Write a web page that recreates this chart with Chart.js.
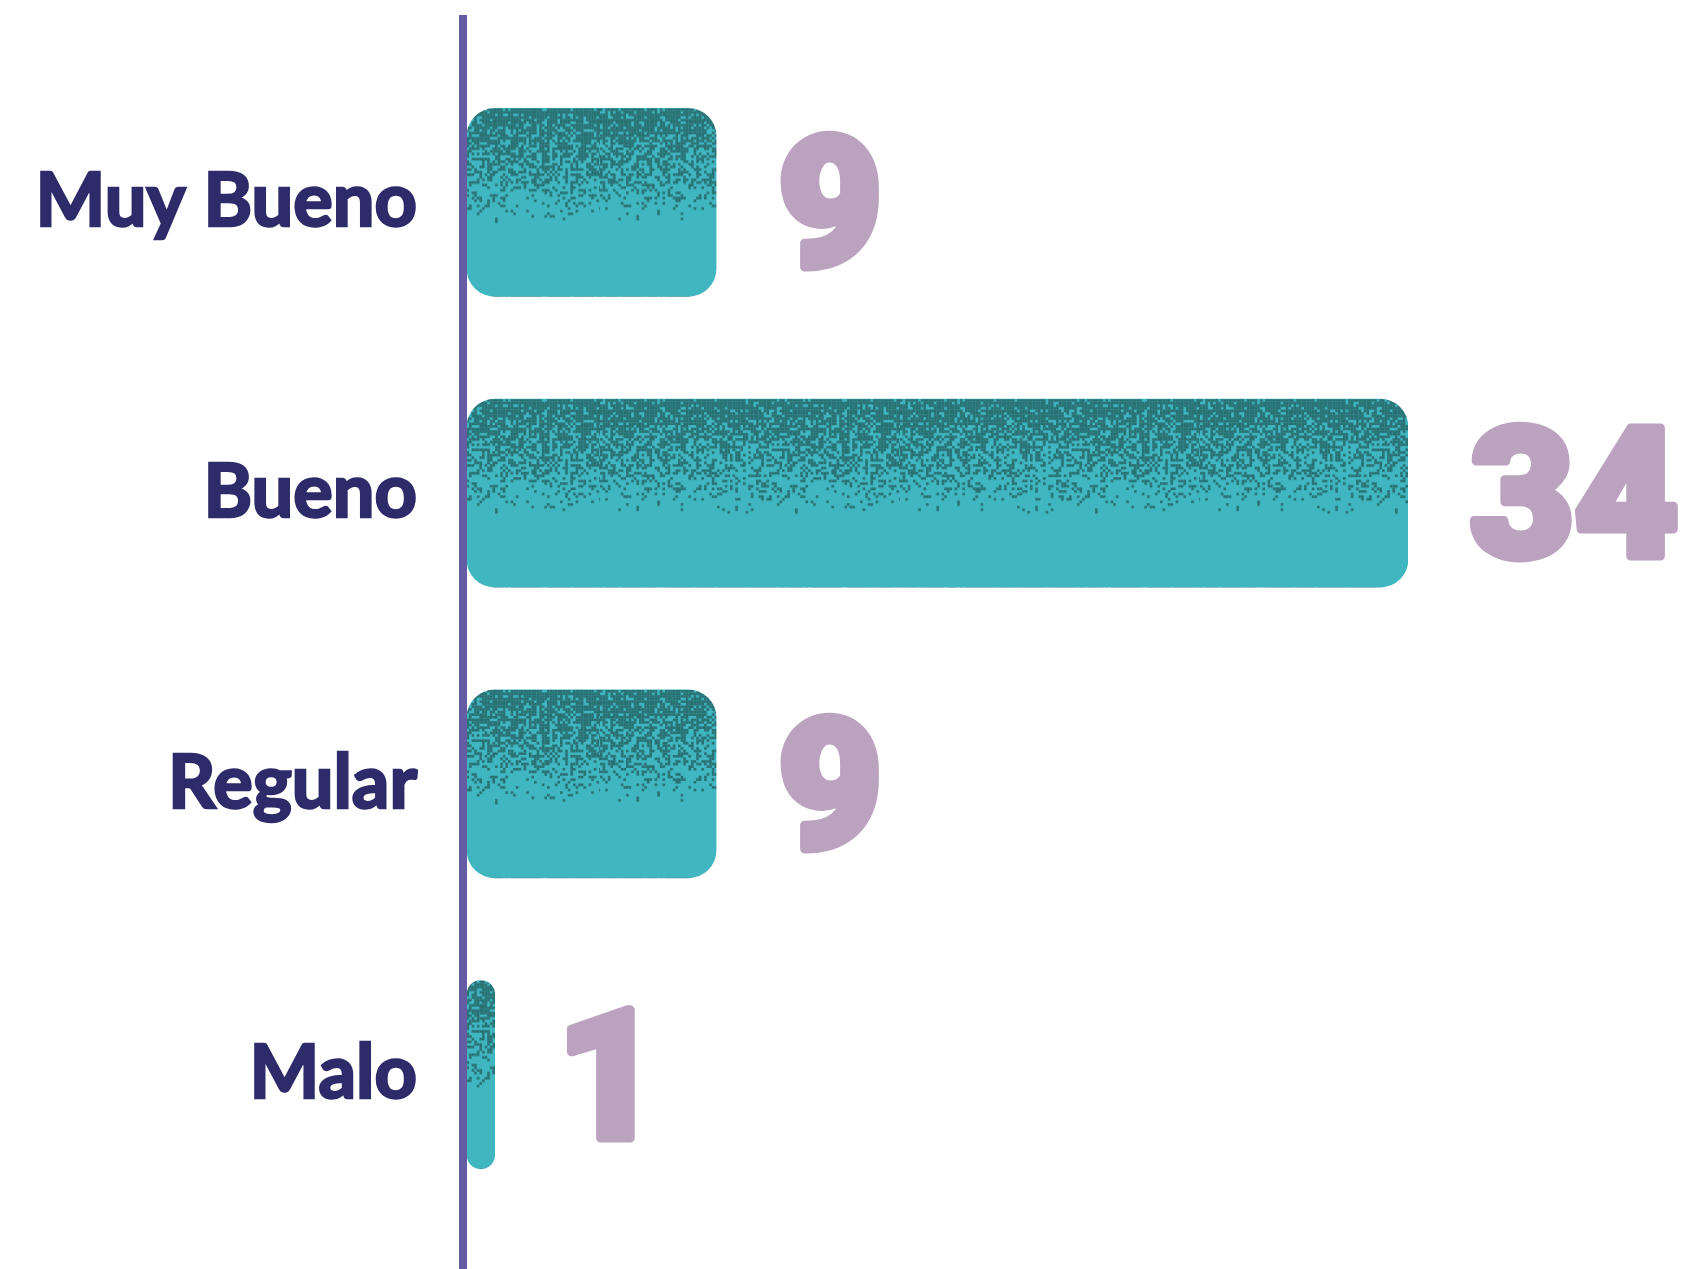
<!DOCTYPE html>
<html lang="es">
<head>
    <meta charset="UTF-8">
    <title>Valoración</title>
    <style>
        html, body {
            margin: 0;
            padding: 0;
            background: #ffffff;
        }
        #wrap {
            width: 1702px;
            height: 1269px;
        }
    </style>
    <script src="https://cdn.jsdelivr.net/npm/chart.js"></script>
</head>
<body>
    <div id="wrap"><canvas id="chart"></canvas></div>

    <script>
        // datos
        const categorias = ["Muy Bueno", "Bueno", "Regular", "Malo"];
        const respuestas = [9, 34, 9, 1];

        const BAR_H = 188;
        const LIGHT = "#40b6c0";
        const DARK = "#2a7072";

        // textura punteada (oscuro arriba, claro abajo)
        function makeTile() {
            const c = document.createElement("canvas");
            c.width = 300;
            c.height = BAR_H;
            const g = c.getContext("2d");
            g.fillStyle = LIGHT;
            g.fillRect(0, 0, c.width, c.height);
            g.fillStyle = DARK;
            const s = 2.6;
            for (let y = 0; y < BAR_H * 0.62; y += s) {
                const t = y / BAR_H;
                const p = Math.pow(Math.max(0, 1 - t / 0.6), 0.9) * 0.88;
                for (let x = 0; x < c.width; x += s) {
                    const h = Math.abs(Math.sin(x * 12.9898 + y * 78.233) * 43758.5453) % 1;
                    if (h < p) g.fillRect(x, y, s, s);
                }
            }
            return c;
        }
        const tile = makeTile();

        function barFill(ctx) {
            const chart = ctx.chart;
            const ys = chart.scales.y;
            if (ctx.type !== "data" || !ys) return LIGHT;
            const pat = chart.ctx.createPattern(tile, "repeat");
            const top = ys.getPixelForValue(ctx.dataIndex) - BAR_H / 2;
            pat.setTransform(new DOMMatrix([1, 0, 0, 1, 0, top]));
            return pat;
        }

        // linea del eje
        const ejePlugin = {
            id: "eje",
            afterDatasetsDraw(chart) {
                const c = chart.ctx;
                const x = chart.scales.x.left - 4;
                c.save();
                c.fillStyle = "#655ca3";
                c.fillRect(x - 4, 15, 8, chart.height - 15);
                c.restore();
            }
        };

        // numeros al final de cada barra
        const valoresPlugin = {
            id: "valores",
            afterDatasetsDraw(chart) {
                const c = chart.ctx;
                const meta = chart.getDatasetMeta(0);
                c.save();
                c.fillStyle = "#bba3c0";
                c.strokeStyle = "#bba3c0";
                c.lineWidth = 9;
                c.lineJoin = "round";
                c.font = "900 180px Roboto";
                c.textAlign = "left";
                c.textBaseline = "middle";
                meta.data.forEach((bar, i) => {
                    const txt = String(respuestas[i]);
                    c.strokeText(txt, bar.x + 62, bar.y + 18);
                    c.fillText(txt, bar.x + 62, bar.y + 18);
                });
                c.restore();
            }
        };

        new Chart(document.getElementById("chart"), {
            type: "bar",
            data: {
                labels: categorias,
                datasets: [{
                    data: respuestas,
                    backgroundColor: barFill,
                    borderRadius: 28,
                    borderSkipped: false,
                    barThickness: BAR_H
                }]
            },
            plugins: [ejePlugin, valoresPlugin],
            options: {
                indexAxis: "y",
                responsive: true,
                maintainAspectRatio: false,
                animation: false,
                layout: {
                    padding: { top: 57, bottom: 49, left: 0, right: 294 }
                },
                plugins: {
                    legend: { display: false },
                    tooltip: { enabled: false }
                },
                scales: {
                    x: {
                        display: false,
                        min: 0,
                        max: Math.max(...respuestas)
                    },
                    y: {
                        grid: { display: false, drawTicks: false },
                        border: { display: false },
                        ticks: {
                            color: "#2d2b69",
                            textStrokeColor: "#2d2b69",
                            textStrokeWidth: 2.5,
                            padding: 50,
                            font: { family: "Lato", weight: "bold", size: 74 }
                        },
                        afterFit(scale) {
                            scale.width = 467;
                            scale.paddingTop = 0;
                            scale.paddingBottom = 0;
                        }
                    }
                }
            }
        });
    </script>
</body>
</html>
